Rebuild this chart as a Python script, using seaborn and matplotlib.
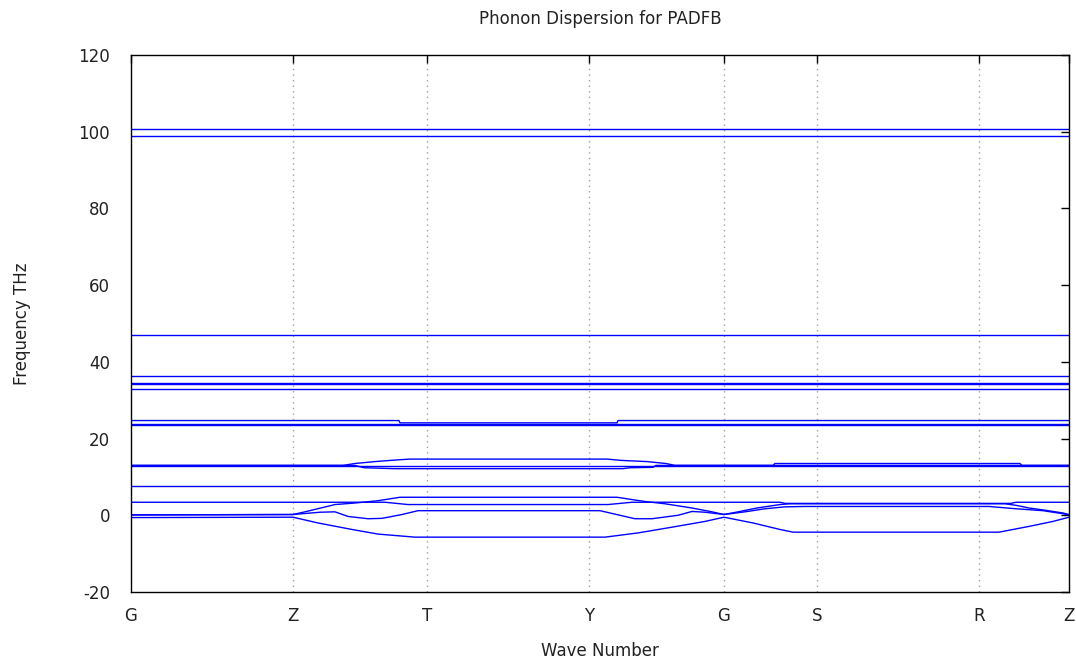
import numpy as np
import pandas as pd
import matplotlib
matplotlib.use('Agg')
import matplotlib.pyplot as plt
import seaborn as sns

# caminho no espaço recíproco (unidades arbitrárias de distância)
sym_labels = ['G', 'Z', 'T', 'Y', 'G', 'S', 'R', 'Z']
sym_pos = [0, 162, 296, 458, 593, 686, 848, 938]

# bandas planas (frequência constante ao longo do caminho)
flat_k = [0, 938]
flat_bands = [7.6, 12.9, 23.5, 23.8, 33.0, 34.2, 34.4, 36.2, 47.1, 99.0, 100.7]

# bandas dispersivas
band_a_k = [0, 162, 187, 221, 247, 284, 474, 507, 541, 574, 593, 622, 649, 662, 868, 898, 922, 938]
band_a_f = [-0.6, -0.5, -2.0, -3.7, -4.9, -5.7, -5.7, -4.6, -3.1, -1.6, -0.5, -2.0, -3.7, -4.4, -4.4, -2.9, -1.6, -0.5]

band_b_k = [0, 162, 189, 204, 217, 237, 251, 271, 287, 469, 484, 504, 521, 547, 561, 574, 593,
            614, 634, 654, 674, 858, 885, 912, 932, 938]
band_b_f = [0.1, 0.2, 0.8, 0.9, -0.3, -0.9, -0.8, 0.2, 1.2, 1.2, 0.3, -0.9, -0.9, 0.0, 1.0, 0.8, 0.2,
            0.9, 1.7, 2.2, 2.3, 2.3, 1.7, 1.2, 0.4, 0.1]

band_c_k = [0, 162, 174, 204, 224, 247, 269, 486, 501, 514, 534, 561, 581, 593,
            609, 626, 649, 659, 874, 885, 898, 912, 932, 938]
band_c_f = [0.1, 0.2, 0.9, 2.8, 3.2, 3.8, 4.7, 4.7, 4.1, 3.6, 3.0, 1.9, 0.9, 0.2,
            1.0, 1.9, 2.8, 3.0, 3.0, 2.6, 1.9, 1.4, 0.6, 0.2]

band_d_k = [0, 254, 277, 477, 501, 649, 654, 880, 885, 938]
band_d_f = [3.4, 3.4, 2.8, 2.8, 3.4, 3.4, 3.1, 3.1, 3.4, 3.4]

band_f_k = [0, 212, 224, 244, 264, 279, 476, 491, 516, 535, 544, 642, 644, 889, 891, 938]
band_f_f = [13.0, 13.0, 13.5, 14.0, 14.4, 14.65, 14.65, 14.3, 14.0, 13.5, 13.0, 13.0, 13.5, 13.5, 13.0, 13.0]

band_g_k = [0, 224, 233, 263, 492, 499, 522, 525, 938]
band_g_f = [13.0, 13.0, 12.4, 12.15, 12.15, 12.4, 12.5, 13.0, 13.0]

band_j_k = [0, 268, 269, 486, 487, 938]
band_j_f = [24.7, 24.7, 24.1, 24.1, 24.7, 24.7]

# tabela longa para o seaborn
frames = []
for i, f in enumerate(flat_bands):
    frames.append(pd.DataFrame({'k': flat_k, 'freq': [f, f], 'band': f'flat{i}'}))
for name, k, f in [('a', band_a_k, band_a_f), ('b', band_b_k, band_b_f), ('c', band_c_k, band_c_f),
                   ('d', band_d_k, band_d_f), ('f', band_f_k, band_f_f), ('g', band_g_k, band_g_f),
                   ('j', band_j_k, band_j_f)]:
    frames.append(pd.DataFrame({'k': k, 'freq': f, 'band': name}))
df = pd.concat(frames, ignore_index=True)

sns.set_style('white')
plt.rcParams['font.family'] = ['DejaVu Sans']
plt.rcParams['axes.unicode_minus'] = False

fig = plt.figure(figsize=(10.76, 6.65), dpi=100)
ax = fig.add_axes([131 / 1076, 1 - 592 / 665, (1069 - 131) / 1076, (592 - 55) / 665])

sns.lineplot(data=df, x='k', y='freq', units='band', estimator=None, sort=False,
             color='#0000ff', linewidth=1.0, ax=ax)

ax.set_xlim(sym_pos[0], sym_pos[-1])
ax.set_ylim(-20, 120)
ax.set_yticks(range(-20, 121, 20))
ax.set_xticks(sym_pos)
ax.set_xticklabels(sym_labels)

for p in sym_pos[1:-1]:
    ax.axvline(p, color='#a0a0a0', linestyle=(0, (1, 3)), linewidth=1.0, zorder=0)

for s in ax.spines.values():
    s.set_color('black')
    s.set_linewidth(1.0)
ax.tick_params(direction='in', top=True, right=True, length=6, width=1, labelsize=12,
               colors='black', labelcolor='#222222')
ax.tick_params(axis='x', pad=11)
ax.tick_params(axis='y', pad=15)

ax.set_title('Phonon Dispersion for PADFB', fontsize=12, pad=22, color='#222222')
ax.set_xlabel('Wave Number', fontsize=12, labelpad=12, color='#222222')
ax.set_ylabel('Frequency THz', fontsize=12, labelpad=34, color='#222222')

fig.savefig('out.png', dpi=100)
